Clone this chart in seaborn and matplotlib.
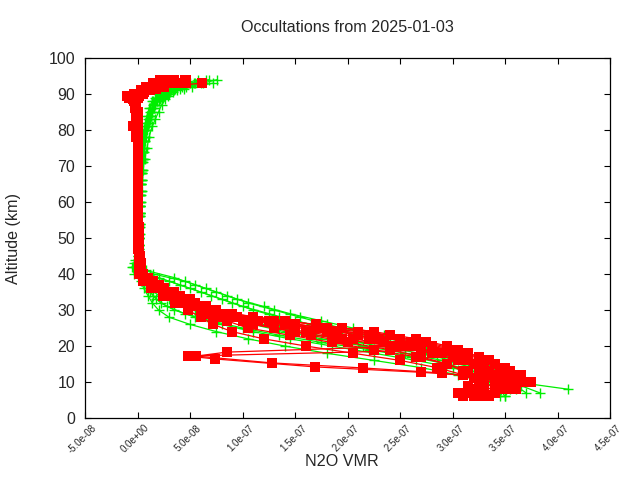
import matplotlib
matplotlib.use("Agg")
import numpy as np
import pandas as pd
import seaborn as sns
import matplotlib.pyplot as plt
from matplotlib.ticker import FuncFormatter
from matplotlib.transforms import ScaledTranslation

# ---------------- data (VMR values in units of 1e-8) ----------------
ALT_A = [93, 92, 91, 90, 89, 88, 86, 84, 82, 80, 77, 74, 71, 68, 65, 62, 59, 56, 53, 50, 47, 44, 42,
         40, 38, 36, 34, 32, 30, 28, 26, 24, 22, 20, 18, 16, 14, 12, 10, 8, 6]
ALT_B = [94, 93, 91.5, 90.5, 89.5, 88.5, 87, 85, 83, 81, 78, 75, 72, 69, 66, 63, 60, 57, 54, 51, 48, 45, 43,
         41, 39, 37, 35, 33, 31, 29, 27, 25, 23, 21, 19, 17, 15, 13, 11, 9, 7]

# green profiles
G1 = [7.2, 5.2, 3.8, 3.0, 2.4, 2.0, 1.6, 1.3, 1.1, 0.9, 0.7, 0.6, 0.5, 0.4, 0.35, 0.3, 0.25, 0.2, 0.2, 0.15, 0.1, 0.1, 0.3,
      1.5, 4.5, 6.5, 8.5, 10.5, 13.0, 15.5, 18.0, 21.0, 24.0, 27.0, 29.5, 31.5, 33.5, 35.0, 36.0, 41.0]
G2 = [7.6, 6.2, 4.4, 3.4, 2.9, 2.6, 2.3, 2.0, 1.7, 1.4, 1.1, 0.9, 0.7, 0.5, 0.45, 0.4, 0.3, 0.25, 0.2, 0.2, 0.15, 0.1, 0.0,
      0.8, 3.5, 5.5, 7.5, 9.5, 12.0, 14.5, 17.5, 20.5, 23.5, 26.5, 29.0, 31.0, 33.0, 34.5, 35.5, 36.5, 38.3]
G3 = [5.5, 4.2, 3.2, 2.6, 2.1, 1.7, 1.4, 1.2, 1.0, 0.8, 0.6, 0.5, 0.45, 0.4, 0.3, 0.25, 0.2, 0.2, 0.15, 0.1, 0.1, 0.0, -0.2,
      0.5, 3.0, 5.0, 7.0, 9.0, 11.0, 13.5, 16.5, 19.5, 22.5, 25.5, 28.0, 30.5, 32.5, 34.0, 35.0, 35.5, 35.0]
G4 = [6.5, 5.0, 3.6, 2.8, 2.2, 1.8, 1.5, 1.2, 1.0, 0.9, 0.7, 0.6, 0.5, 0.4, 0.35, 0.3, 0.25, 0.2, 0.15, 0.1, 0.1, 0.0, 0.1,
      0.3, 2.0, 4.0, 6.0, 8.0, 10.0, 12.5, 15.0, 18.0, 21.0, 24.5, 27.5, 30.0, 32.0, 33.5, 34.5, 35.0]
G5 = [4.5, 3.5, 2.7, 2.2, 1.8, 1.5, 1.2, 1.0, 0.8, 0.7, 0.55, 0.45, 0.4, 0.3, 0.25, 0.2, 0.2, 0.15, 0.1, 0.1, 0.05, 0.0, -0.4,
      0.2, 0.6, 1.0, 1.5, 2.2, 3.5, 5.5, 8.0, 11.0, 14.5, 18.5, 22.5, 26.5, 30.0, 32.5, 34.0, 35.0, 34.5]
G6 = [5.8, 4.6, 3.4, 2.7, 2.2, 1.9, 1.6, 1.4, 1.2, 1.0, 0.8, 0.65, 0.55, 0.45, 0.4, 0.3, 0.25, 0.2, 0.2, 0.15, 0.1, 0.05, -0.3,
      0.0, 0.4, 0.8, 1.2, 1.8, 2.8, 4.5, 7.0, 10.0, 13.5, 17.5, 22.0, 26.0, 29.5, 32.0, 33.5, 34.0]
G7 = [6.0, 4.6, 3.5, 2.8, 2.3, 1.9, 1.5, 1.25, 1.05, 0.85, 0.65, 0.55, 0.45, 0.35, 0.3, 0.25, 0.2, 0.15, 0.1, 0.1, 0.05, -0.2, -0.5,
      -0.3, 0.3, 0.6, 1.0, 1.4, 2.0, 3.0, 5.0, 7.5, 10.5, 14.0, 18.0, 22.5, 27.0, 30.5, 33.0, 34.5, 35.0]
G8 = [6.8, 5.4, 4.0, 3.1, 2.5, 2.1, 1.7, 1.4, 1.15, 0.95, 0.75, 0.6, 0.5, 0.4, 0.35, 0.3, 0.25, 0.2, 0.15, 0.15, 0.1, 0.1, 0.2,
      0.5, 1.0, 1.5, 2.0, 3.0, 5.0, 7.5, 10.5, 13.5, 17.0, 21.0, 25.0, 28.5, 31.5, 33.5, 35.0, 36.0, 37.0]
G9 = [4.0, 3.2, 2.5, 2.0, 1.7, 1.4, 1.1, 0.9, 0.75, 0.6, 0.5, 0.4, 0.35, 0.3, 0.25, 0.2, 0.15, 0.15, 0.1, 0.1, 0.05, 0.0, 0.1,
      0.0, 0.5, 1.2, 2.0, 3.5, 5.5, 8.0, 11.0, 14.0, 17.5, 21.5, 25.5, 29.0, 32.0, 34.0, 35.0, 36.0]

# red profiles
R1 = [3.0, 1.5, 0.8, 0.2, -0.8, -0.3, -0.2, -0.1, 0.0, -0.1, 0.0, 0.0, 0.0, 0.0, 0.0, 0.0, 0.0, 0.0, 0.0, 0.1, 0.1, 0.2, 0.2,
      0.5, 1.5, 2.5, 4.0, 5.5, 7.0, 9.5, 15.0, 21.0, 25.0, 28.0, 31.0, 33.0, 35.0, 36.0, 37.5, 36.0]
R2 = [4.6, 4.6, 1.8, 0.6, 0.1, -0.2, -0.1, 0.0, 0.0, -0.4, 0.0, 0.0, 0.0, 0.0, 0.0, 0.0, 0.0, 0.0, 0.0, 0.0, 0.1, 0.1, 0.2,
      0.3, 1.0, 2.0, 3.5, 5.0, 6.5, 8.5, 12.5, 18.0, 22.0, 26.0, 29.5, 31.5, 33.0, 34.5, 35.5, 35.0, 34.0]
R3 = [6.1, 2.5, 1.2, 0.5, 0.0, -0.2, -0.1, 0.0, 0.0, 0.0, 0.0, 0.0, 0.0, 0.0, 0.0, 0.0, 0.0, 0.0, 0.1, 0.1, 0.1, 0.1, 0.3,
      0.2, 0.8, 1.8, 3.0, 4.5, 6.0, 8.0, 11.0, 15.0, 19.5, 24.0, 28.0, 30.5, 32.5, 33.5, 34.0, 33.0, 32.0]
R4 = [2.1, 2.0, 1.0, 0.3, -1.0, -0.4, -0.2, -0.1, 0.0, -0.3, -0.1, 0.0, 0.0, 0.0, 0.0, 0.0, 0.0, 0.0, 0.0, 0.0, 0.0, 0.1, 0.1,
      0.1, 0.6, 1.5, 2.8, 4.2, 5.5, 7.5, 10.0, 13.0, 16.5, 20.0, 24.0, 27.0, 29.5, 31.0, 32.0, 31.5, 30.5]
R5 = [2.0, 1.2, 0.5, 0.1, -0.5, -0.3, -0.2, -0.1, -0.1, 0.0, 0.0, 0.0, 0.0, 0.0, 0.0, 0.0, 0.0, 0.0, 0.0, 0.0, 0.1, 0.1, 0.2,
      0.2, 0.8, 1.8, 3.0, 4.8, 6.0, 8.0, 11.0, 16.0, 20.5, 25.0, 29.0, 31.5, 33.0, 34.5, 36.0, 35.0, 33.5]
R6 = [3.5, 3.0, 1.4, 0.5, -0.2, -0.2, -0.1, 0.0, 0.0, 0.0, 0.0, 0.0, 0.0, 0.0, 0.0, 0.0, 0.0, 0.0, 0.0, 0.1, 0.1, 0.2, 0.3,
      0.3, 1.0, 2.0, 3.2, 4.5, 6.0, 8.5, 13.0, 17.5, 21.0, 23.5, 27.0, 30.0, 32.0, 33.5, 35.0, 34.5, 32.0]
R7 = [1.5, 0.8, 0.3, -0.3, -0.6, -0.3, -0.1, 0.0, 0.0, 0.0, 0.0, 0.0, 0.0, 0.0, 0.0, 0.0, 0.0, 0.0, 0.0, 0.0, 0.0, 0.1, 0.2,
      0.4, 1.2, 2.2, 3.5, 5.0, 6.5, 9.0, 14.0, 19.0, 23.0, 26.0]
R7_TAIL_ALT = [18.3, 17.2, 15.3, 13.9, 12.5, 11.0, 9.5]
R7_TAIL = [8.5, 5.6, 12.8, 21.5, 29.0, 33.0, 34.0]
R8 = [4.5, 2.8, 1.0, 0.3, -0.3, -0.2, -0.1, 0.0, -0.1, 0.0, 0.0, 0.0, 0.0, 0.0, 0.0, 0.0, 0.0, 0.0, 0.0, 0.0, 0.1, 0.1, 0.2,
      0.2, 0.7, 1.6, 2.9, 4.4, 5.8, 8.0, 11.5, 17.0, 22.5, 27.0, 30.0]
R8_TAIL_ALT = [17.2, 16.4, 14.2, 12.7, 11.5, 10.0, 8.0, 6.0]
R8_TAIL = [4.8, 7.4, 16.9, 27.0, 33.0, 35.0, 34.0, 31.0]
R9 = [3.8, 2.2, 1.0, 0.4, -0.4, -0.3, -0.1, 0.0, 0.0, 0.0, 0.0, 0.0, 0.0, 0.0, 0.0, 0.0, 0.0, 0.0, 0.0, 0.0, 0.1, 0.1, 0.2,
      0.3, 1.2, 2.3, 3.8, 5.2, 7.5, 11.0, 17.0, 22.5, 26.5, 29.5, 31.5, 33.5, 35.0, 36.5, 37.0, 35.5, 33.0]
R10 = [2.8, 3.6, 1.6, 0.4, -0.5, -0.2, -0.1, 0.0, 0.0, -0.2, 0.0, 0.0, 0.0, 0.0, 0.0, 0.0, 0.0, 0.0, 0.0, 0.0, 0.0, 0.1, 0.2,
       0.2, 0.9, 1.9, 3.3, 4.8, 6.3, 9.0, 14.0, 19.5, 24.0, 27.5, 30.5, 32.5, 34.0, 35.5, 36.5, 35.5, 33.0]
R11 = [2.4, 1.8, 0.9, 0.2, -0.3, -0.2, -0.1, 0.0, 0.0, 0.0, 0.0, 0.0, 0.0, 0.0, 0.0, 0.0, 0.0, 0.0, 0.0, 0.0, 0.1, 0.1, 0.2,
       0.3, 1.0, 2.0, 3.2, 4.6, 6.2, 8.8, 13.0, 18.0, 22.0, 25.5, 29.0, 31.0, 33.0, 34.0, 35.0, 34.0, 32.5]
R12 = [3.2, 2.6, 1.2, 0.3, -0.6, -0.3, -0.1, 0.0, 0.0, -0.1, 0.0, 0.0, 0.0, 0.0, 0.0, 0.0, 0.0, 0.0, 0.0, 0.0, 0.0, 0.1, 0.1,
       0.1, 0.6, 1.4, 2.5, 3.8, 5.0, 6.5, 8.5, 10.5, 14.5, 18.5, 22.5, 26.5, 29.5, 31.5, 32.5, 33.0, 31.5]
R13 = [2.6, 1.4, 0.6, 0.1, -0.4, -0.2, -0.1, 0.0, 0.0, 0.0, 0.0, 0.0, 0.0, 0.0, 0.0, 0.0, 0.0, 0.0, 0.0, 0.0, 0.0, 0.1, 0.1,
       0.1, 0.5, 1.3, 2.4, 3.6, 4.8, 6.0, 7.2, 9.0, 12.0, 16.0, 20.5, 25.0, 28.5, 31.0, 32.5, 32.0, 31.0]

X_TICKS = [-5e-8, 0.0, 5e-8, 1e-7, 1.5e-7, 2e-7, 2.5e-7, 3e-7, 3.5e-7, 4e-7, 4.5e-7]
Y_TICKS = [0, 10, 20, 30, 40, 50, 60, 70, 80, 90, 100]

green_profiles = [(ALT_A, G1), (ALT_B, G2), (ALT_A, G3), (ALT_B, G4), (ALT_A, G5),
                  (ALT_B, G6), (ALT_A, G7), (ALT_B, G8), (ALT_A, G9)]
red_profiles = [(ALT_A, R1), (ALT_B, R2), (ALT_A, R3), (ALT_B, R4), (ALT_A, R5), (ALT_B, R6),
                (ALT_A[:len(R7)] + R7_TAIL_ALT, R7 + R7_TAIL),
                (ALT_B[:len(R8)] + R8_TAIL_ALT, R8 + R8_TAIL),
                (ALT_A, R9), (ALT_B, R10), (ALT_A, R11), (ALT_B, R12), (ALT_A, R13)]


def to_frame(profiles):
    rows = []
    for i, (alts, vals) in enumerate(profiles):
        for order, (a, v) in enumerate(zip(alts, vals)):
            rows.append({"profile": i, "order": order, "alt": a, "vmr": v * 1e-8})
    return pd.DataFrame(rows)


green_df = to_frame(green_profiles)
red_df = to_frame(red_profiles)

# ---------------- plot ----------------
sns.set_style("ticks")
plt.rcParams["font.family"] = ["Liberation Sans", "DejaVu Sans"]

fig, ax = plt.subplots(figsize=(6.4, 4.8), dpi=100)
fig.subplots_adjust(left=85 / 640, right=610 / 640, top=1 - 58 / 480, bottom=1 - 418 / 480)

GREEN = "#00ee00"
RED = "#ff0000"

sns.lineplot(data=green_df, x="vmr", y="alt", units="profile", estimator=None, sort=False,
             color=GREEN, marker="+", markersize=7.5, markeredgewidth=1.0,
             markeredgecolor=GREEN, linewidth=0.9, ax=ax, legend=False)
sns.lineplot(data=red_df, x="vmr", y="alt", units="profile", estimator=None, sort=False,
             color=RED, marker="s", markersize=6.6, markeredgewidth=0,
             markeredgecolor=RED, markerfacecolor=RED, linewidth=0.9, ax=ax, legend=False)

ax.set_xlim(-5e-8, 4.5e-7)
ax.set_ylim(0, 100)
ax.set_xticks(X_TICKS)
ax.set_yticks(Y_TICKS)
ax.xaxis.set_major_formatter(FuncFormatter(lambda v, p: f"{v:.1e}"))

for s in ax.spines.values():
    s.set_visible(True)
    s.set_color("black")
    s.set_linewidth(0.9)

ax.tick_params(axis="both", direction="in", top=True, right=True, length=4, width=0.8, color="black")
ax.tick_params(axis="y", labelsize=11.5, pad=7)
ax.tick_params(axis="x", labelsize=7, pad=6)

offset = ScaledTranslation(0.10, 0, fig.dpi_scale_trans)
for lab in ax.get_xticklabels():
    lab.set_rotation(45)
    lab.set_ha("right")
    lab.set_va("center")
    lab.set_rotation_mode("anchor")
    lab.set_transform(lab.get_transform() + offset)

ax.set_title("Occultations from 2025-01-03", fontsize=11.6, pad=19)
ax.set_xlabel("N2O VMR", fontsize=11.6)
ax.set_ylabel("Altitude (km)", fontsize=11.6)
ax.xaxis.set_label_coords(0.49, -0.1)
ax.yaxis.set_label_coords(-0.122, 0.5)

fig.savefig("out.png", dpi=100)
